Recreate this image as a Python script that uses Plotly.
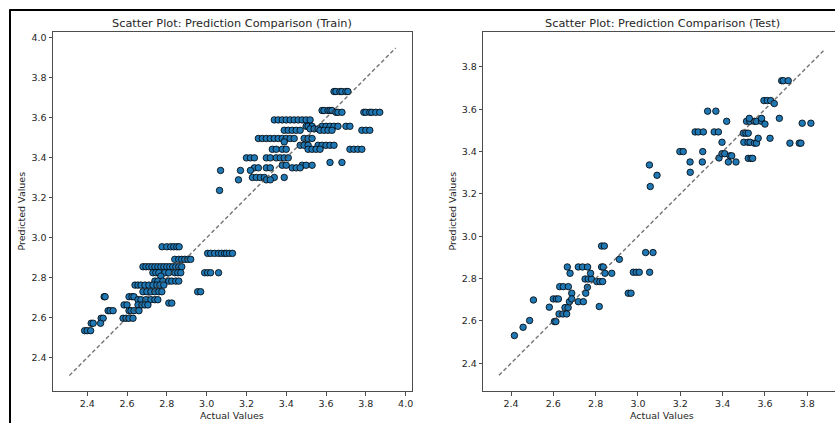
import plotly.graph_objects as go

# ---------------- Train data (actual, predicted) ----------------
train_actual = [
    3.64, 3.65, 3.67, 3.68, 3.70, 3.71,
    3.58, 3.59, 3.61, 3.62, 3.63,
    3.65, 3.66, 3.68, 3.79, 3.80, 3.82, 3.83, 3.85, 3.87,
    3.34, 3.36, 3.38, 3.40, 3.42, 3.44, 3.46, 3.48, 3.50, 3.52,
    3.50, 3.51, 3.53, 3.58, 3.60, 3.62, 3.64, 3.66, 3.70, 3.72,
    3.52, 3.54, 3.56,
    3.39, 3.41, 3.43, 3.45, 3.47, 3.57, 3.59, 3.61, 3.63, 3.78, 3.80, 3.82,
    3.26, 3.28, 3.30, 3.32, 3.34, 3.36, 3.38, 3.40, 3.42, 3.44, 3.49, 3.51, 3.53,
    3.39,
    3.47, 3.49, 3.51, 3.56, 3.58, 3.60, 3.62, 3.64,
    3.33, 3.35, 3.38, 3.40, 3.51, 3.53, 3.55, 3.57, 3.72, 3.74, 3.76, 3.78,
    3.20, 3.22, 3.24, 3.30, 3.32, 3.35, 3.37, 3.39, 3.41,
    3.62, 3.68,
    3.38, 3.40, 3.48, 3.50, 3.53,
    3.24, 3.26, 3.30, 3.32, 3.43, 3.45, 3.47,
    3.07, 3.17, 3.22,
    3.23, 3.25, 3.27, 3.29, 3.34, 3.39,
    3.16, 3.30, 3.32,
    3.065,
    2.776, 2.80, 2.82, 2.835, 2.85, 2.862,
    3.005, 3.02, 3.04, 3.06, 3.075, 3.09, 3.10, 3.115, 3.13,
    2.84, 2.86, 2.875, 2.89, 2.905, 2.92,
    2.68, 2.695, 2.71, 2.725, 2.74, 2.755, 2.77, 2.785, 2.80, 2.815, 2.83, 2.845, 2.86, 2.875,
    2.73, 2.745, 2.76, 2.79, 2.81, 2.84, 2.855, 2.87, 2.99, 3.005, 3.02, 3.06,
    2.77,
    2.74, 2.755, 2.78, 2.81, 2.825, 2.845, 2.86,
    2.64, 2.655, 2.67, 2.69, 2.71, 2.73, 2.75, 2.765, 2.785,
    2.68, 2.70, 2.72, 2.74, 2.76, 2.775, 2.955, 2.97,
    2.485, 2.49, 2.61, 2.625, 2.635,
    2.655, 2.67, 2.695, 2.72, 2.74, 2.755,
    2.81, 2.825,
    2.585, 2.60, 2.655, 2.675, 2.69, 2.705,
    2.505, 2.515, 2.53, 2.61, 2.62, 2.635, 2.66,
    2.58, 2.595, 2.61, 2.63, 2.47, 2.48,
    2.42, 2.43, 2.467,
    2.387, 2.40, 2.417,
]
train_pred = [
    3.732, 3.732, 3.732, 3.732, 3.732, 3.732,
    3.637, 3.637, 3.637, 3.637, 3.637,
    3.628, 3.628, 3.628, 3.628, 3.628, 3.628, 3.628, 3.628, 3.628,
    3.590, 3.590, 3.590, 3.590, 3.590, 3.590, 3.590, 3.590, 3.590, 3.590,
    3.558, 3.558, 3.558, 3.558, 3.558, 3.558, 3.558, 3.558, 3.558, 3.558,
    3.545, 3.545, 3.545,
    3.538, 3.538, 3.538, 3.538, 3.538, 3.538, 3.538, 3.538, 3.538, 3.538, 3.538, 3.538,
    3.497, 3.497, 3.497, 3.497, 3.497, 3.497, 3.497, 3.497, 3.497, 3.497, 3.497, 3.497, 3.497,
    3.480,
    3.463, 3.463, 3.463, 3.463, 3.463, 3.463, 3.463, 3.463,
    3.443, 3.443, 3.443, 3.443, 3.443, 3.443, 3.443, 3.443, 3.443, 3.443, 3.443, 3.443,
    3.400, 3.400, 3.400, 3.400, 3.400, 3.400, 3.400, 3.400, 3.400,
    3.377, 3.377,
    3.363, 3.363, 3.363, 3.363, 3.363,
    3.350, 3.350, 3.350, 3.350, 3.350, 3.350, 3.350,
    3.337, 3.337, 3.337,
    3.302, 3.302, 3.302, 3.302, 3.302, 3.302,
    3.290, 3.290, 3.290,
    3.237,
    2.955, 2.955, 2.955, 2.955, 2.955, 2.955,
    2.922, 2.922, 2.922, 2.922, 2.922, 2.922, 2.922, 2.922, 2.922,
    2.892, 2.892, 2.892, 2.892, 2.892, 2.892,
    2.855, 2.855, 2.855, 2.855, 2.855, 2.855, 2.855, 2.855, 2.855, 2.855, 2.855, 2.855, 2.855, 2.855,
    2.825, 2.825, 2.825, 2.825, 2.825, 2.825, 2.825, 2.825, 2.825, 2.825, 2.825, 2.825,
    2.808,
    2.783, 2.783, 2.783, 2.783, 2.783, 2.783, 2.783,
    2.763, 2.763, 2.763, 2.763, 2.763, 2.763, 2.763, 2.763, 2.763,
    2.730, 2.730, 2.730, 2.730, 2.730, 2.730, 2.730, 2.730,
    2.705, 2.705, 2.705, 2.705, 2.705,
    2.690, 2.690, 2.690, 2.690, 2.690, 2.690,
    2.673, 2.673,
    2.664, 2.664, 2.664, 2.664, 2.664, 2.664,
    2.635, 2.635, 2.635, 2.635, 2.635, 2.635, 2.635,
    2.597, 2.597, 2.597, 2.597, 2.597, 2.597,
    2.572, 2.572, 2.572,
    2.535, 2.535, 2.535,
]

# ---------------- Test data (actual, predicted) ----------------
test_actual = [
    2.416, 2.457, 2.488, 2.506, 2.581, 2.600, 2.614, 2.624, 2.605, 2.612,
    2.630, 2.647, 2.671, 2.666, 2.679, 2.627, 2.645, 2.663, 2.655, 2.670,
    2.676, 2.687, 2.687, 2.718, 2.738, 2.762, 2.718, 2.742, 2.753, 2.761,
    2.750, 2.765, 2.780, 2.776, 2.805, 2.820, 2.833, 2.817, 2.828, 2.841,
    2.828, 2.836, 2.844, 2.876, 2.912, 2.954, 2.967, 2.978, 2.992, 3.006,
    3.036, 3.071, 3.055, 3.054, 3.058, 3.090, 3.198, 3.214, 3.246, 3.247,
    3.270, 3.285, 3.309, 3.306, 3.304, 3.329, 3.368, 3.360, 3.380, 3.383,
    3.397, 3.410, 3.397, 3.419, 3.427, 3.435, 3.443, 3.463, 3.498, 3.510,
    3.521, 3.500, 3.520, 3.530, 3.513, 3.528, 3.550, 3.526, 3.521, 3.534,
    3.542, 3.550, 3.560, 3.568, 3.560, 3.584, 3.584, 3.595, 3.611, 3.627,
    3.600, 3.644, 3.624, 3.668, 3.679, 3.687, 3.710, 3.718, 3.762, 3.770,
    3.776, 3.817,
]
test_pred = [
    2.531, 2.570, 2.602, 2.699, 2.665, 2.704, 2.704, 2.704, 2.597, 2.597,
    2.762, 2.762, 2.762, 2.855, 2.825, 2.633, 2.633, 2.633, 2.663, 2.663,
    2.691, 2.731, 2.704, 2.855, 2.855, 2.855, 2.691, 2.691, 2.731, 2.759,
    2.798, 2.798, 2.798, 2.825, 2.786, 2.786, 2.786, 2.668, 2.954, 2.954,
    2.855, 2.855, 2.825, 2.825, 2.891, 2.731, 2.731, 2.830, 2.830, 2.830,
    2.923, 2.923, 2.830, 3.337, 3.235, 3.288, 3.400, 3.400, 3.351, 3.302,
    3.493, 3.493, 3.493, 3.400, 3.351, 3.591, 3.591, 3.493, 3.493, 3.370,
    3.390, 3.390, 3.444, 3.543, 3.351, 3.380, 3.380, 3.351, 3.487, 3.487,
    3.487, 3.444, 3.444, 3.444, 3.543, 3.543, 3.543, 3.557, 3.368, 3.368,
    3.368, 3.440, 3.440, 3.463, 3.543, 3.543, 3.557, 3.641, 3.641, 3.641,
    3.530, 3.627, 3.463, 3.557, 3.735, 3.735, 3.735, 3.440, 3.440, 3.440,
    3.534, 3.534,
]

# Reference (ideal) line end points
train_line = [2.31, 3.95]
test_line = [2.343, 3.884]

train_ticks = [2.4, 2.6, 2.8, 3.0, 3.2, 3.4, 3.6, 3.8, 4.0]
test_ticks = [2.4, 2.6, 2.8, 3.0, 3.2, 3.4, 3.6, 3.8]

titles = ["Scatter Plot: Prediction Comparison (Train)",
          "Scatter Plot: Prediction Comparison (Test)"]
xlabel = "Actual Values"
ylabel = "Predicted Values"

W, H = 835, 423
FONT = "DejaVu Sans"
TXT = "#262626"
SPINE = "#4d4d4d"
TICK_FS = 9.5
LABEL_FS = 9.5
TITLE_FS = 11.3

marker = dict(color="#1f77b4", size=6.5, line=dict(color="black", width=0.8))
line_style = dict(color="rgba(70,70,70,0.75)", width=1.4, dash="4px,2.5px")

fig = go.Figure()
fig.add_trace(go.Scatter(x=train_actual, y=train_pred, mode="markers",
                         marker=marker, xaxis="x", yaxis="y", showlegend=False))
fig.add_trace(go.Scatter(x=train_line, y=train_line, mode="lines",
                         line=line_style, xaxis="x", yaxis="y", showlegend=False))
fig.add_trace(go.Scatter(x=test_actual, y=test_pred, mode="markers",
                         marker=marker, xaxis="x2", yaxis="y2", showlegend=False))
fig.add_trace(go.Scatter(x=test_line, y=test_line, mode="lines",
                         line=line_style, xaxis="x2", yaxis="y2", showlegend=False))

# axes geometry in pixels
L1, R1 = 53, 412
L2, R2 = 483.3, 835
R2_FULL = 841.4
TOP, BOT = 32, 391

def px_x(p):
    return p / W

def px_y(p):
    return 1 - p / H

axis_common = dict(showgrid=False, zeroline=False, showline=True, linecolor=SPINE,
                   linewidth=1, ticks="outside", ticklen=3.5, tickwidth=0.8,
                   tickcolor=SPINE, tickformat=".1f",
                   tickfont=dict(family=FONT, size=TICK_FS, color=TXT))

fig.update_layout(
    width=W, height=H,
    margin=dict(l=0, r=0, t=0, b=0),
    paper_bgcolor="white", plot_bgcolor="white",
    xaxis=dict(axis_common, domain=[px_x(L1), px_x(R1)], range=[2.228, 4.032],
               tickvals=train_ticks, mirror=True, anchor="y"),
    yaxis=dict(axis_common, domain=[px_y(BOT), px_y(TOP)], range=[2.233, 4.030],
               tickvals=train_ticks, mirror=True, anchor="x"),
    xaxis2=dict(axis_common, domain=[px_x(L2), 1.0], range=[2.269, 3.931],
                tickvals=test_ticks, mirror=True, anchor="y2"),
    yaxis2=dict(axis_common, domain=[px_y(BOT), px_y(TOP)], range=[2.269, 3.965],
                tickvals=test_ticks, mirror=False, anchor="x2"),
)

def text_ann(text, xp, yp, size, angle=0):
    return dict(text=text, x=px_x(xp), y=px_y(yp), xref="paper", yref="paper",
                showarrow=False, textangle=angle,
                font=dict(family=FONT, size=size, color=TXT),
                xanchor="center", yanchor="middle")

ann = [
    text_ann(titles[0], (L1 + R1) / 2, 23.5, TITLE_FS),
    text_ann(titles[1], (L2 + R2_FULL) / 2, 23.5, TITLE_FS),
    text_ann(xlabel, (L1 + R1) / 2, 415.5, LABEL_FS),
    text_ann(xlabel, (L2 + R2_FULL) / 2, 415.5, LABEL_FS),
    text_ann(ylabel, 21, (TOP + BOT) / 2, LABEL_FS, -90),
    text_ann(ylabel, 452, (TOP + BOT) / 2, LABEL_FS, -90),
]
fig.update_layout(annotations=ann)

# outer frame (black border visible at left and top of the screenshot)
fig.update_layout(shapes=[
    dict(type="line", xref="paper", yref="paper", x0=px_x(10), x1=px_x(10),
         y0=0, y1=px_y(9.5), line=dict(color="black", width=2)),
    dict(type="line", xref="paper", yref="paper", x0=px_x(9.5), x1=1,
         y0=px_y(10), y1=px_y(10), line=dict(color="black", width=2)),
])

fig.write_html("out.html")
